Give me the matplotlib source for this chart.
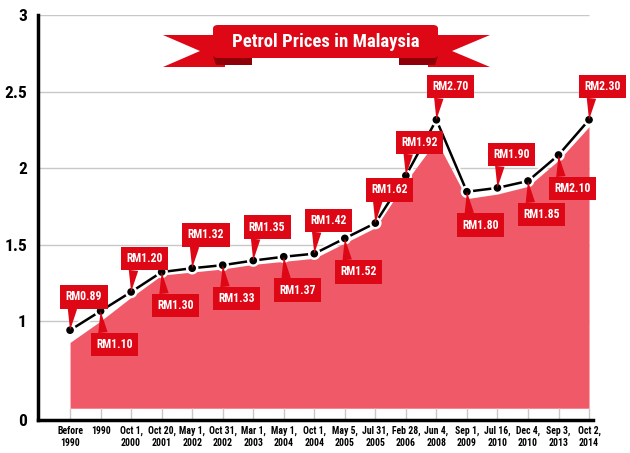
import matplotlib
matplotlib.use("Agg")
import matplotlib.pyplot as plt
from matplotlib.patches import Polygon, FancyBboxPatch
import matplotlib.patheffects as pe
import matplotlib.font_manager as fm

# ---- data ----
categories = ["Before\n1990", "1990", "Oct 1,\n2000", "Oct 20,\n2001", "May 1,\n2002",
              "Oct 31,\n2002", "Mar 1,\n2003", "May 1,\n2004", "Oct 1,\n2004", "May 5,\n2005",
              "Jul 31,\n2005", "Feb 28,\n2006", "Jun 4,\n2008", "Sep 1,\n2009", "Jul 16,\n2010",
              "Dec 4,\n2010", "Sep 3,\n2013", "Oct 2,\n2014"]
line_values = [0.94, 1.065, 1.19, 1.32, 1.345, 1.365, 1.395, 1.42, 1.44, 1.54,
               1.64, 1.95, 2.315, 1.845, 1.87, 1.915, 2.085, 2.315]
area_values = [0.86, 1.00, 1.155, 1.30, 1.32, 1.34, 1.37, 1.39, 1.41, 1.51,
               1.61, 1.91, 2.18, 1.80, 1.83, 1.88, 2.05, 2.27]
price_labels = ["RM0.89", "RM1.10", "RM1.20", "RM1.30", "RM1.32", "RM1.33", "RM1.35",
                "RM1.37", "RM1.42", "RM1.52", "RM1.62", "RM1.92", "RM2.70", "RM1.80",
                "RM1.90", "RM1.85", "RM2.10", "RM2.30"]
label_above = [True, False, True, False, True, False, True, False, True, False,
               True, True, True, False, True, False, False, True]
y_ticks = [0.353, 1, 1.5, 2, 2.5, 3]
y_tick_labels = ["0", "1", "1.5", "2", "2.5", "3"]
area_base = 0.43
title = "Petrol Prices in Malaysia"

# ---- pick a condensed bold font if one is installed ----
COND_STRETCH = {"condensed", "semi-condensed", "extra-condensed", "ultra-condensed",
                "narrower", 500 - 125, 500 - 250}


def is_bold(f):
    w = f.weight
    if isinstance(w, str):
        return w in ("bold", "heavy", "black", "extra bold", "semibold", "demibold")
    return w >= 600


def is_cond(f):
    st = f.stretch
    if isinstance(st, str):
        cond = st in COND_STRETCH
    else:
        cond = st < 500
    return cond or "Narrow" in f.name or "Condensed" in f.name


pref = ["Liberation Sans Narrow", "Roboto Condensed", "Open Sans Condensed",
        "Noto Sans Condensed", "Noto Sans", "DejaVu Sans Condensed", "DejaVu Sans"]
best = None
for name in pref:
    for f in fm.fontManager.ttflist:
        if f.name == name and is_cond(f) and is_bold(f) and f.style == "normal":
            best = f.fname
            break
    if best:
        break
if best is None:
    for f in fm.fontManager.ttflist:
        if is_cond(f) and is_bold(f) and f.style == "normal":
            best = f.fname
            break


def fp(size):
    if best:
        return fm.FontProperties(fname=best, size=size)
    return fm.FontProperties(family="Roboto", weight="bold", size=size)


RED = "#DE0716"
AREA = "#F05A68"

W, H = 630, 453
fig = plt.figure(figsize=(W / 100, H / 100), dpi=100)
fig.patch.set_facecolor("white")
ax = fig.add_axes([38 / W, 1 - 420 / H, (593 - 38) / W, (420 - 15) / H])

x = list(range(len(categories)))
ax.set_xlim(-1.05, len(categories) - 1 + 0.13)
ax.set_ylim(y_ticks[0], 3)

# gridlines
ax.hlines(y_ticks[1:], ax.get_xlim()[0], len(categories) - 1, colors="#C8C8C8",
          linewidth=1.0, zorder=0)

# area
ax.fill_between(x, area_base, area_values, color=AREA, linewidth=0, zorder=1)

# line
ax.plot(x, line_values, color="black", linewidth=1.8, marker="o", markersize=4.5,
        zorder=3, path_effects=[pe.Stroke(linewidth=4.5, foreground="white"), pe.Normal()])

# callouts
for i, (v, lab, up) in enumerate(zip(line_values, price_labels, label_above)):
    dy = 24 if up else -24
    ax.annotate(lab, xy=(i, v), xytext=(10, dy), textcoords="offset points",
                ha="center", va="center", color="white", fontproperties=fp(8.5),
                zorder=5,
                bbox=dict(boxstyle="square,pad=0.45", fc=RED, ec="none"),
                arrowprops=dict(arrowstyle="wedge,tail_width=0.8,shrink_factor=0.5",
                                fc=RED, ec="none", relpos=(0.2, 0.0 if up else 1.0),
                                shrinkA=0, shrinkB=0))

# axes styling
for s in ["top", "right"]:
    ax.spines[s].set_visible(False)
ax.spines["left"].set_linewidth(2.5)
ax.spines["bottom"].set_linewidth(2.5)
ax.set_xticks(x)
ax.set_xticklabels(categories, fontproperties=fp(7), linespacing=1.25)
ax.tick_params(axis="x", direction="in", length=8.6, width=1.0, color="#C8C8C8", pad=4)
ax.set_yticks(y_ticks)
ax.set_yticklabels(y_tick_labels, fontproperties=fp(12.5))
ax.tick_params(axis="y", length=0, pad=8)


# ---- title banner (decoration in figure pixels) ----
def px(pts):
    return [(a / W, 1 - b / H) for a, b in pts]


DARK = "#8E0008"
left_tail = Polygon(px([(163, 35), (225, 35), (225, 67), (163, 67), (200, 51)]),
                    closed=True, transform=fig.transFigure, fc=RED, ec="none", zorder=1)
right_tail = Polygon(px([(428, 35), (490, 35), (452, 51), (490, 67), (428, 67)]),
                     closed=True, transform=fig.transFigure, fc=RED, ec="none", zorder=1)
left_fold = Polygon(px([(213, 56), (252, 56), (252, 65), (216, 65)]),
                    closed=True, transform=fig.transFigure, fc=DARK, ec="none", zorder=2)
right_fold = Polygon(px([(399, 56), (438, 56), (435, 65), (399, 65)]),
                     closed=True, transform=fig.transFigure, fc=DARK, ec="none", zorder=2)
body = FancyBboxPatch((213 / W, 1 - 58 / H), (438 - 213) / W, 33 / H,
                      boxstyle="round,pad=0,rounding_size=0.008",
                      transform=fig.transFigure, fc=RED, ec="none", zorder=3)
for p in [left_tail, right_tail, left_fold, right_fold, body]:
    fig.patches.append(p)
fig.text(326 / W, 1 - 42 / H, title, ha="center", va="center", color="white",
         fontproperties=fp(13.5), zorder=4)

fig.savefig("out.png", dpi=100, facecolor="white")
